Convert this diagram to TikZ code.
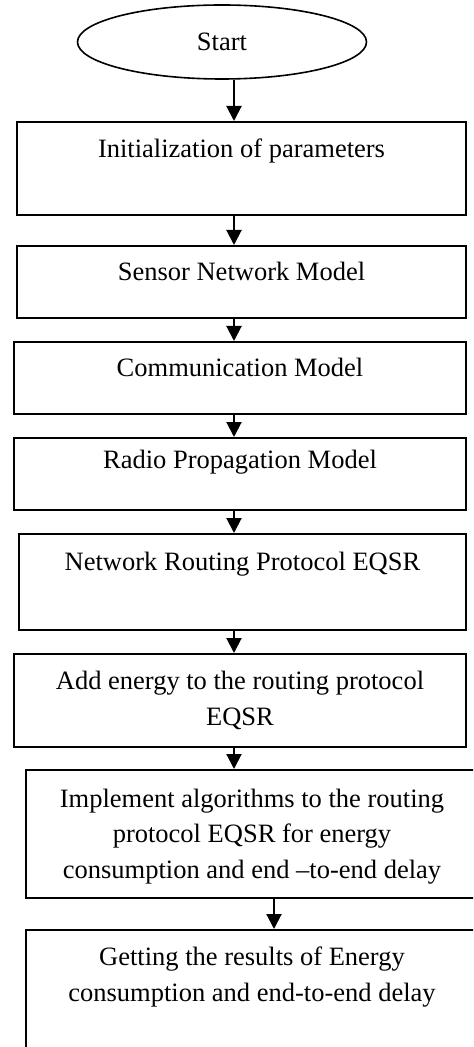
\documentclass[tikz,border=0pt]{standalone}
\usepackage{fontspec}
\setmainfont{Liberation Serif}
\usepackage{tikz}
\usetikzlibrary{arrows.meta,calc,positioning,shapes.geometric}

\tikzset{
  stepbox/.style={draw,line width=1pt,rectangle,anchor=north,inner xsep=0pt,inner ysep=0pt,
    align=center,font=\fontsize{13.25}{17.75}\selectfont},
  flow/.style={line width=1pt,-{Triangle[width=7.5pt,length=7.5pt]}}
}

\begin{document}
\begin{tikzpicture}[x=0.5pt,y=-0.5pt]
    \useasboundingbox (0,0) rectangle (473,1047);
    \clip (0,0) rectangle (473,1047);
    \node[draw,line width=0.8pt,ellipse,minimum width=144.5pt,minimum height=37pt,inner sep=0pt,
      font=\fontsize{13.25}{15}\selectfont] (start) at (222,42) {Start};
    \node[stepbox,minimum width=224.5pt,text height=18pt,text depth=28.5pt] (init) at (241.5,121)
      {Initialization of parameters};
    \node[stepbox,minimum width=224.5pt,text height=17.25pt,text depth=18.75pt] (sensor) at (241.5,245)
      {Sensor Network Model};
    \node[stepbox,minimum width=226pt,text height=17.5pt,text depth=18.5pt] (comm) at (240,341)
      {Communication Model};
    \node[stepbox,minimum width=226pt,text height=15pt,text depth=21pt] (radio) at (240,437)
      {Radio Propagation Model};
    \node[stepbox,minimum width=223.5pt,text height=18pt,text depth=30pt] (eqsr) at (242.5,533)
      {Network Routing Protocol EQSR};
    \node[stepbox,minimum width=226pt,text height=35.5pt,text depth=11pt] (energy) at (240,653)
      {Add energy to the routing protocol\\EQSR};
    \node[stepbox,minimum width=226pt,text height=54pt,text depth=10pt] (algo) at (252,769)
      {Implement algorithms to the routing\\protocol EQSR for energy\\consumption and end --to-end delay};
    \node[stepbox,minimum width=226pt,text height=35.5pt,text depth=35pt] (result) at (252,929)
      {Getting the results of Energy\\consumption and end-to-end delay};
    % connectors
    \coordinate (ax) at (234,0);
    \coordinate (bx) at (274,0);
    \draw[flow] (start.south -| ax) -- (init.north -| ax);
    \draw[flow] (init.south -| ax) -- (sensor.north -| ax);
    \draw[flow] (sensor.south -| ax) -- (comm.north -| ax);
    \draw[flow] (comm.south -| ax) -- (radio.north -| ax);
    \draw[flow] (radio.south -| ax) -- (eqsr.north -| ax);
    \draw[flow] (eqsr.south -| ax) -- (energy.north -| ax);
    \draw[flow] (energy.south -| ax) -- (algo.north -| ax);
    \draw[flow] (algo.south -| bx) -- (result.north -| bx);
  \end{tikzpicture}
\end{document}
